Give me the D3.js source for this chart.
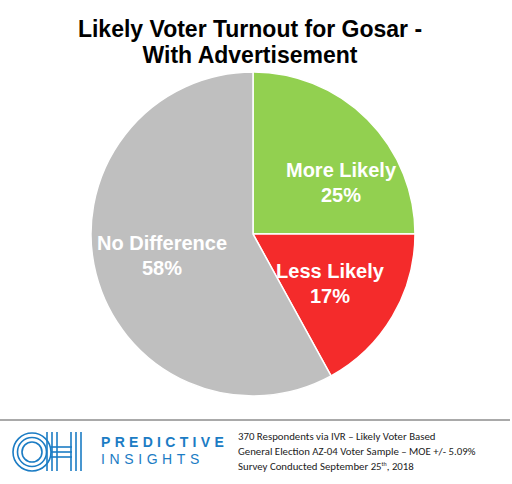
<!DOCTYPE html>
<head>
<meta charset="UTF-8">
<style>
body{margin:0;padding:0;background:#fff;}
svg{display:block;}
</style>
</head>
<body>
<script src="https://cdn.jsdelivr.net/npm/d3@7"></script>
<script>
var labels = ['More Likely', 'Less Likely', 'No Difference'];
var values = [25, 17, 58];
var colors = ['#92d050', '#f42b2b', '#bfbfbf'];
var footLines = ['370 Respondents via IVR \u2013 Likely Voter Based',
  'General Election AZ-04 Voter Sample \u2013 MOE +/- 5.09%'];

var width = 512, height = 484;
var svg = d3.select('body').append('svg').attr('width', width).attr('height', height);

svg.append('text').attr('x', 250).attr('y', 37).attr('text-anchor', 'middle')
  .style('font', 'bold 23px Arial, "Liberation Sans", sans-serif').text('Likely Voter Turnout for Gosar -');
svg.append('text').attr('x', 250).attr('y', 63).attr('text-anchor', 'middle')
  .style('font', 'bold 23px Arial, "Liberation Sans", sans-serif').text('With Advertisement');

var cx = 253, cy = 234, r = 162;
var pie = d3.pie().sort(null).value(function(d){ return d; });
var arc = d3.arc().innerRadius(0).outerRadius(r);
var arcs = pie(values);
var g = svg.append('g').attr('transform', 'translate(' + cx + ',' + cy + ')');
g.selectAll('path').data(arcs).enter().append('path')
  .attr('d', arc).attr('fill', function(d, i){ return colors[i]; })
  .attr('stroke', '#fff').attr('stroke-width', 1.5);

var labelPos = [[341, 177], [330, 278], [162, 250]];
arcs.forEach(function(d, i){
  var t = svg.append('text').attr('text-anchor', 'middle').attr('fill', '#fff')
    .style('font', 'bold 20px Arial, "Liberation Sans", sans-serif');
  t.append('tspan').attr('x', labelPos[i][0]).attr('y', labelPos[i][1]).text(labels[i]);
  t.append('tspan').attr('x', labelPos[i][0]).attr('y', labelPos[i][1] + 25).text(values[i] + '%');
});

svg.append('line').attr('x1', 0).attr('x2', 510).attr('y1', 420).attr('y2', 420)
  .attr('stroke', '#555').attr('stroke-width', 1);

// logo
var blue = '#1b7cc4';
var logo = svg.append('g').attr('fill', 'none').attr('stroke', blue).attr('stroke-width', 1.6);
[19, 14.5, 10].forEach(function(rr){
  logo.append('circle').attr('cx', 32).attr('cy', 452).attr('r', rr);
});
// H: two vertical bars of three lines and crossbar
[47, 52, 57].forEach(function(x){
  logo.append('line').attr('x1', x).attr('x2', x).attr('y1', 432).attr('y2', 471);
});
[71, 76, 81].forEach(function(x){
  logo.append('line').attr('x1', x).attr('x2', x).attr('y1', 432).attr('y2', 471);
});
[447, 452, 457].forEach(function(y){
  logo.append('line').attr('x1', 51).attr('x2', 72).attr('y1', y).attr('y2', y);
});
svg.append('text').attr('x', 101).attr('y', 447).attr('fill', blue)
  .style('font', 'bold 14px Arial, sans-serif').style('letter-spacing', '4.3px').text('PREDICTIVE');
svg.append('text').attr('x', 101).attr('y', 464).attr('fill', blue)
  .style('font', '14px Arial, sans-serif').style('letter-spacing', '4.6px').text('INSIGHTS');

var ft = svg.append('g').style('font', '10.8px Calibri, Carlito, "Open Sans", sans-serif').attr('fill', '#222');
footLines.forEach(function(s, i){
  ft.append('text').attr('x', 238).attr('y', 440 + i * 15).text(s);
});
var last = ft.append('text').attr('x', 238).attr('y', 470);
last.append('tspan').text('Survey Conducted September 25');
last.append('tspan').attr('dy', -4).style('font-size', '6px').text('th');
last.append('tspan').attr('dy', 4).text(', 2018');
</script>
</body>
</html>
